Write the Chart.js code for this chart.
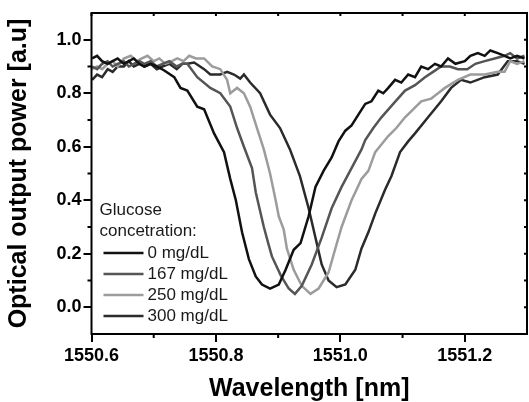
<!DOCTYPE html>
<html>
<head>
<meta charset="utf-8">
<script src="https://cdn.jsdelivr.net/npm/chart.js@4.4.1/dist/chart.umd.min.js"></script>
<style>
  body { margin: 0; background: #fff; }
  canvas { display: block; }
</style>
</head>
<body>
<canvas id="myChart" width="529" height="402"></canvas>
<script>
// wavelength [nm] / power [a.u], one pair of arrays per concentration
const seriesLabels = ['0 mg/dL', '167 mg/dL', '250 mg/dL', '300 mg/dL'];
const seriesColors = ['#111111', '#555555', '#9c9c9c', '#2b2b2b'];

const wl0 = [1550.601,1550.609,1550.617,1550.626,1550.634,1550.642,1550.652,1550.660,1550.668,1550.677,1550.685,1550.695,1550.705,1550.717,1550.733,1550.743,1550.754,1550.770,1550.781,1550.797,1550.813,1550.823,1550.832,1550.842,1550.853,1550.864,1550.874,1550.887,1550.901,1550.912,1550.925,1550.936,1550.949,1550.960,1550.973,1550.986,1550.997,1551.008,1551.018,1551.029,1551.040,1551.050,1551.061,1551.069,1551.077,1551.088,1551.098,1551.109,1551.120,1551.130,1551.141,1551.152,1551.162,1551.173,1551.185,1551.200,1551.209,1551.221,1551.232,1551.241,1551.253,1551.264,1551.273,1551.284,1551.296];
const pw0 = [0.93,0.94,0.92,0.91,0.92,0.93,0.91,0.92,0.93,0.91,0.90,0.91,0.90,0.885,0.86,0.82,0.81,0.75,0.74,0.65,0.58,0.48,0.40,0.28,0.18,0.115,0.085,0.07,0.085,0.14,0.215,0.24,0.34,0.45,0.51,0.56,0.62,0.66,0.68,0.72,0.76,0.77,0.81,0.80,0.82,0.85,0.84,0.87,0.86,0.90,0.89,0.91,0.90,0.93,0.91,0.92,0.94,0.95,0.94,0.96,0.95,0.94,0.93,0.94,0.93];

const wl1 = [1550.601,1550.609,1550.617,1550.626,1550.634,1550.642,1550.652,1550.660,1550.668,1550.677,1550.685,1550.695,1550.705,1550.714,1550.725,1550.737,1550.746,1550.754,1550.770,1550.791,1550.807,1550.823,1550.834,1550.845,1550.858,1550.864,1550.871,1550.877,1550.884,1550.890,1550.904,1550.917,1550.927,1550.938,1550.954,1550.970,1550.986,1551.002,1551.018,1551.034,1551.040,1551.053,1551.066,1551.085,1551.104,1551.120,1551.136,1551.149,1551.162,1551.176,1551.189,1551.204,1551.217,1551.232,1551.248,1551.264,1551.273,1551.284,1551.296];
const pw1 = [0.90,0.89,0.91,0.92,0.90,0.91,0.92,0.90,0.91,0.92,0.91,0.92,0.90,0.91,0.92,0.90,0.91,0.91,0.86,0.82,0.80,0.75,0.67,0.60,0.52,0.43,0.36,0.30,0.24,0.19,0.12,0.07,0.05,0.08,0.16,0.26,0.37,0.45,0.52,0.59,0.625,0.67,0.71,0.76,0.81,0.83,0.86,0.88,0.90,0.90,0.89,0.89,0.91,0.92,0.93,0.94,0.95,0.93,0.94];

const wl2 = [1550.601,1550.609,1550.617,1550.626,1550.634,1550.642,1550.652,1550.663,1550.673,1550.681,1550.690,1550.700,1550.709,1550.719,1550.729,1550.738,1550.748,1550.757,1550.768,1550.781,1550.794,1550.807,1550.818,1550.823,1550.834,1550.845,1550.855,1550.866,1550.877,1550.887,1550.896,1550.901,1550.909,1550.914,1550.925,1550.938,1550.952,1550.965,1550.981,1550.992,1551.002,1551.018,1551.034,1551.045,1551.056,1551.077,1551.090,1551.104,1551.117,1551.130,1551.146,1551.157,1551.168,1551.189,1551.209,1551.232,1551.253,1551.264,1551.273,1551.284,1551.296];
const pw2 = [0.89,0.90,0.89,0.91,0.92,0.90,0.93,0.94,0.92,0.93,0.94,0.92,0.93,0.91,0.92,0.93,0.92,0.94,0.93,0.93,0.90,0.89,0.85,0.80,0.82,0.80,0.75,0.67,0.59,0.50,0.40,0.34,0.29,0.22,0.14,0.08,0.05,0.07,0.13,0.22,0.30,0.40,0.48,0.51,0.58,0.64,0.67,0.71,0.74,0.77,0.78,0.80,0.82,0.85,0.87,0.87,0.88,0.88,0.92,0.91,0.92];

const wl3 = [1550.601,1550.609,1550.617,1550.626,1550.634,1550.642,1550.652,1550.660,1550.668,1550.677,1550.685,1550.695,1550.705,1550.714,1550.725,1550.737,1550.746,1550.754,1550.765,1550.781,1550.791,1550.807,1550.818,1550.829,1550.839,1550.845,1550.855,1550.871,1550.887,1550.903,1550.919,1550.935,1550.949,1550.960,1550.970,1550.981,1550.994,1551.008,1551.024,1551.034,1551.045,1551.056,1551.072,1551.082,1551.096,1551.109,1551.120,1551.141,1551.162,1551.178,1551.194,1551.209,1551.232,1551.253,1551.269,1551.284,1551.296];
const pw3 = [0.85,0.87,0.86,0.89,0.88,0.90,0.90,0.92,0.90,0.91,0.90,0.91,0.89,0.90,0.91,0.89,0.91,0.91,0.915,0.89,0.87,0.87,0.88,0.87,0.855,0.87,0.84,0.80,0.72,0.67,0.59,0.49,0.37,0.26,0.16,0.10,0.075,0.085,0.14,0.22,0.28,0.35,0.44,0.49,0.58,0.62,0.65,0.71,0.77,0.82,0.85,0.84,0.86,0.87,0.92,0.92,0.91];

const xTickValues = [1550.6, 1550.8, 1551.0, 1551.2];
const xMinorValues = [1550.7, 1550.9, 1551.1];
const yTickValues = [0.0, 0.2, 0.4, 0.6, 0.8, 1.0];
const yMinorValues = [0.1, 0.3, 0.5, 0.7, 0.9];

const FONT = '"Liberation Sans", Arial, sans-serif';
var ctx = document.getElementById('myChart').getContext('2d');

function pairs(xs, ys) {
    return xs.map((x, i) => ({ x: x, y: ys[i] }));
}

// closed box, minor ticks outside, short inward ticks on top/right
const frame = {
    id: 'frame',
    afterDatasetsDraw(chart) {
        const { ctx, chartArea: a, scales } = chart;
        const x = scales.x, y = scales.y;
        ctx.save();
        ctx.strokeStyle = '#000';
        ctx.lineWidth = 2;
        ctx.strokeRect(a.left, a.top, a.right - a.left, a.bottom - a.top);
        ctx.beginPath();
        xMinorValues.forEach(v => {
            const p = x.getPixelForValue(v);
            ctx.moveTo(p, a.bottom); ctx.lineTo(p, a.bottom + 4);
        });
        yMinorValues.forEach(v => {
            const p = y.getPixelForValue(v);
            ctx.moveTo(a.left, p); ctx.lineTo(a.left - 4, p);
        });
        xTickValues.concat(xMinorValues).forEach(v => {
            const p = x.getPixelForValue(v);
            ctx.moveTo(p, a.top); ctx.lineTo(p, a.top + 3);
        });
        yTickValues.concat(yMinorValues).forEach(v => {
            const p = y.getPixelForValue(v);
            ctx.moveTo(a.right, p); ctx.lineTo(a.right - 3, p);
        });
        ctx.stroke();
        ctx.restore();
    }
};

const legendBox = {
    id: 'legendBox',
    afterDraw(chart) {
        const { ctx, chartArea: a } = chart;
        const x0 = a.left + 8;
        ctx.save();
        ctx.font = '17px ' + FONT;
        ctx.fillStyle = '#1a1a1a';
        ctx.textBaseline = 'middle';
        ctx.fillText('Glucose', x0, a.top + 197);
        ctx.fillText('concetration:', x0, a.top + 218);
        chart.data.datasets.forEach((ds, i) => {
            const yy = a.top + 240 + i * 21;
            ctx.strokeStyle = ds.borderColor;
            ctx.lineWidth = 2.5;
            ctx.beginPath();
            ctx.moveTo(a.left + 12, yy);
            ctx.lineTo(a.left + 52, yy);
            ctx.stroke();
            ctx.fillText(ds.label, a.left + 56, yy);
        });
        ctx.restore();
    }
};

const datasets = [[wl0, pw0], [wl1, pw1], [wl2, pw2], [wl3, pw3]].map((s, i) => ({
    label: seriesLabels[i],
    data: pairs(s[0], s[1]),
    borderColor: seriesColors[i],
    borderWidth: 2.5,
    pointRadius: 0,
    tension: 0,
    fill: false
}));

new Chart(ctx, {
    type: 'line',
    data: { datasets: datasets },
    options: {
        responsive: false,
        animation: false,
        layout: { padding: { left: 3, right: 2, top: 13, bottom: 0 } },
        plugins: {
            legend: { display: false },
            tooltip: { enabled: false }
        },
        scales: {
            x: {
                type: 'linear',
                min: 1550.6,
                max: 1551.3,
                afterBuildTicks: s => { s.ticks = xTickValues.map(v => ({ value: v })); },
                afterFit: s => { s.height = 68; },
                border: { display: false },
                grid: { drawOnChartArea: false, color: '#000', lineWidth: 2, tickLength: 8 },
                ticks: {
                    autoSkip: false,
                    maxRotation: 0,
                    padding: 3,
                    color: '#000',
                    font: { family: FONT, size: 18, weight: 'bold' },
                    callback: v => Number(v).toFixed(1)
                },
                title: {
                    display: true,
                    text: 'Wavelength [nm]',
                    color: '#000',
                    font: { family: FONT, size: 25, weight: 'bold', lineHeight: 1 },
                    padding: { top: 0, bottom: 0 }
                }
            },
            y: {
                min: -0.1,
                max: 1.1,
                afterBuildTicks: s => { s.ticks = yTickValues.map(v => ({ value: v })); },
                afterFit: s => { s.width = 88.5; },
                border: { display: false },
                grid: { drawOnChartArea: false, color: '#000', lineWidth: 2, tickLength: 8 },
                ticks: {
                    autoSkip: false,
                    padding: 2,
                    color: '#000',
                    font: { family: FONT, size: 18, weight: 'bold' },
                    callback: v => Number(v).toFixed(1)
                },
                title: {
                    display: true,
                    text: 'Optical output power [a.u]',
                    color: '#000',
                    font: { family: FONT, size: 25, weight: 'bold', lineHeight: 1 },
                    padding: { top: 4, bottom: 0 }
                }
            }
        }
    },
    plugins: [frame, legendBox]
});
</script>
</body>
</html>
